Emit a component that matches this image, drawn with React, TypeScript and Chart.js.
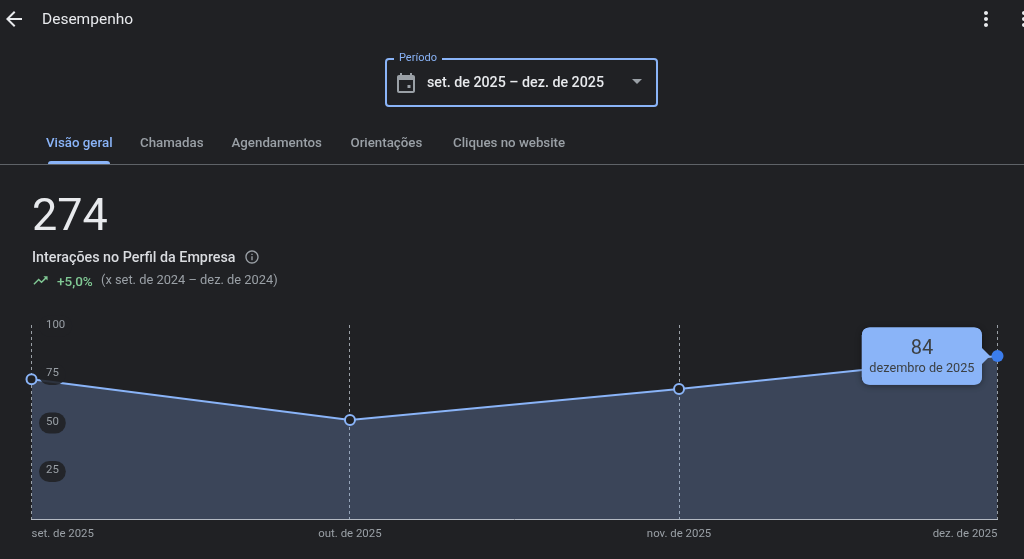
import { useEffect, useRef } from 'react';
import { Chart, registerables } from 'chart.js';

Chart.register(...registerables);

// days since 1 set. 2025, the axis is proportional to time
const dayOffsets = [0, 30, 61, 91];
const interactions = [72, 51, 67, 84];
const xTickLabels = ['set. de 2025', 'out. de 2025', 'nov. de 2025', 'dez. de 2025'];
const monthNames = ['setembro de 2025', 'outubro de 2025', 'novembro de 2025', 'dezembro de 2025'];
const yTickValues = [25, 50, 75, 100];
const tabs = ['Visão geral', 'Chamadas', 'Agendamentos', 'Orientações', 'Cliques no website'];
const tabLefts = [46, 140, 231.5, 350.5, 453];

const BG = '#202124';
const BLUE = '#8ab4f8';
const GREY = '#9aa0a6';
const FONT = 'Roboto, sans-serif';

const tickPills = {
  id: 'tickPills',
  afterDatasetsDraw(chart: Chart) {
    const { ctx } = chart;
    const y = chart.scales.y;
    ctx.save();
    ctx.fillStyle = 'rgba(32,33,36,0.88)';
    ctx.font = `11.4px ${FONT}`;
    yTickValues.forEach((v) => {
      const w = ctx.measureText(String(v)).width + 14;
      ctx.beginPath();
      ctx.roundRect(39, y.getPixelForValue(v) - 9.5, w, 21, 10.5);
      ctx.fill();
    });
    ctx.restore();
  },
  // shadow only under the box, so the tooltip text stays sharp
  beforeTooltipDraw(chart: Chart) {
    const { ctx } = chart;
    const tip = chart.tooltip;
    if (!tip) return;
    ctx.save();
    ctx.shadowColor = 'rgba(0,0,0,0.4)';
    ctx.shadowBlur = 6;
    ctx.shadowOffsetY = 1;
    ctx.fillStyle = BLUE;
    ctx.beginPath();
    ctx.roundRect(tip.x, tip.y, tip.width, tip.height, 8);
    ctx.fill();
    ctx.restore();
  },
};

function PerformanceChart() {
  const canvasRef = useRef<HTMLCanvasElement>(null);

  useEffect(() => {
    if (!canvasRef.current) return;
    const last = interactions.length - 1;

    const chart = new Chart(canvasRef.current, {
      type: 'line',
      data: {
        datasets: [
          {
            data: dayOffsets.map((x, i) => ({ x, y: interactions[i] })),
            borderColor: BLUE,
            borderWidth: 2,
            backgroundColor: 'rgba(138,180,248,0.25)',
            fill: 'origin',
            tension: 0,
            clip: false,
            pointRadius: interactions.map((_, i) => (i === last ? 6 : 5)),
            pointBorderWidth: interactions.map((_, i) => (i === last ? 0 : 2)),
            pointBorderColor: BLUE,
            pointBackgroundColor: interactions.map((_, i) => (i === last ? '#3b7ded' : BG)),
          },
        ],
      },
      options: {
        responsive: false,
        animation: false,
        events: [],
        layout: { padding: { left: 31.5, right: 26.5, top: 325, bottom: 0 } },
        scales: {
          x: {
            type: 'linear',
            min: 0,
            max: dayOffsets[last],
            afterBuildTicks: (scale) => {
              scale.ticks = dayOffsets.map((value) => ({ value }));
            },
            afterFit: (scale) => {
              scale.height = 40;
            },
            grid: { color: GREY, lineWidth: 1, drawTicks: false },
            border: { display: true, color: '#b4bac4', width: 1, dash: [3, 3] },
            ticks: {
              autoSkip: false,
              maxRotation: 0,
              align: 'inner',
              padding: 8,
              color: GREY,
              font: { family: FONT, size: 11.4 },
              callback: (_value, index) => xTickLabels[index],
            },
          },
          y: {
            min: 0,
            max: 100,
            afterBuildTicks: (scale) => {
              scale.ticks = yTickValues.map((value) => ({ value }));
            },
            // labels sit inside the plot, the axis takes no room
            afterFit: (scale) => {
              scale.width = 0;
            },
            grid: { display: false },
            border: { display: false },
            ticks: {
              mirror: true,
              z: 1,
              padding: 14.5,
              color: GREY,
              font: { family: FONT, size: 11.4 },
            },
          },
        },
        plugins: {
          legend: { display: false },
          tooltip: {
            animation: false,
            enabled: true,
            xAlign: 'right',
            yAlign: 'center',
            backgroundColor: BLUE,
            titleColor: '#3c4043',
            bodyColor: '#3c4043',
            titleFont: { family: FONT, size: 20, weight: 'normal' },
            bodyFont: { family: FONT, size: 12.7 },
            titleAlign: 'center',
            bodyAlign: 'center',
            titleMarginBottom: 0.5,
            padding: { left: 7.5, right: 7.5, top: 9.5, bottom: 8 },
            cornerRadius: 8,
            caretSize: 8,
            caretPadding: 7.5,
            displayColors: false,
            callbacks: {
              title: (items) => String(items[0].parsed.y),
              label: (item) => monthNames[item.dataIndex],
            },
          },
        },
      },
      plugins: [tickPills],
    });

    chart.tooltip?.setActiveElements([{ datasetIndex: 0, index: last }], { x: 0, y: 0 });
    chart.update('none');

    return () => chart.destroy();
  }, []);

  return (
    <canvas
      ref={canvasRef}
      width={1024}
      height={559}
      style={{ position: 'absolute', left: 0, top: 0, width: 1024, height: 559 }}
    />
  );
}

function Label({ x, y, size, color, weight = 400, children }: any) {
  return (
    <div
      style={{
        position: 'absolute',
        left: x,
        top: y,
        fontSize: size,
        color,
        fontWeight: weight,
        lineHeight: '20px',
        whiteSpace: 'nowrap',
        transform: 'translateY(-50%)',
      }}
    >
      {children}
    </div>
  );
}

export default function App() {
  useEffect(() => {
    document.body.style.margin = '0';
    document.body.style.background = BG;
  }, []);

  return (
    <div
      style={{
        position: 'absolute',
        left: 0,
        top: 0,
        width: 1024,
        height: 559,
        overflow: 'hidden',
        background: BG,
        fontFamily: FONT,
      }}
    >
      <PerformanceChart />

      {/* top bar */}
      <svg style={{ position: 'absolute', left: 2, top: 7 }} width="24" height="24" viewBox="0 0 24 24">
        <path d="M20 11H7.83l5.59-5.59L12 4l-8 8 8 8 1.41-1.41L7.83 13H20v-2z" fill="#e8eaed" />
      </svg>
      <Label x={42} y={19} size={15.5} color="#e8eaed">Desempenho</Label>
      <svg style={{ position: 'absolute', left: 973.5, top: 6.5 }} width="24" height="24" viewBox="0 0 24 24">
        <path
          d="M12 8c1.1 0 2-.9 2-2s-.9-2-2-2-2 .9-2 2 .9 2 2 2zm0 2c-1.1 0-2 .9-2 2s.9 2 2 2 2-.9 2-2-.9-2-2-2zm0 6c-1.1 0-2 .9-2 2s.9 2 2 2 2-.9 2-2-.9-2-2-2z"
          fill="#e8eaed"
        />
      </svg>
      <svg style={{ position: 'absolute', left: 1012, top: 6.5 }} width="24" height="24" viewBox="0 0 24 24">
        <path
          d="M12 8c1.1 0 2-.9 2-2s-.9-2-2-2-2 .9-2 2 .9 2 2 2zm0 2c-1.1 0-2 .9-2 2s.9 2 2 2 2-.9 2-2-.9-2-2-2zm0 6c-1.1 0-2 .9-2 2s.9 2 2 2 2-.9 2-2-.9-2-2-2z"
          fill="#e8eaed"
        />
      </svg>

      {/* period selector */}
      <div
        style={{
          position: 'absolute',
          left: 385,
          top: 58,
          width: 269,
          height: 45,
          border: `2px solid ${BLUE}`,
          borderRadius: 4,
        }}
      />
      <div style={{ position: 'absolute', left: 394, top: 52, width: 48, height: 12, background: BG }} />
      <Label x={399} y={57.5} size={11} color={BLUE}>Período</Label>
      <svg style={{ position: 'absolute', left: 394, top: 71 }} width="24" height="24" viewBox="0 0 24 24">
        <path
          d="M19 4h-1V2h-2v2H8V2H6v2H5c-1.1 0-2 .9-2 2v14c0 1.1.9 2 2 2h14c1.1 0 2-.9 2-2V6c0-1.100-.9-2-2-2zm0 16H5V9h14v11z"
          fill="#9aa0a6"
        />
        <path d="M13.500 14h3v3h-3z" fill="#9aa0a6" />
      </svg>
      <Label x={427} y={82} size={14.25} color="#e8eaed" weight={500}>set. de 2025 – dez. de 2025</Label>
      <svg style={{ position: 'absolute', left: 632, top: 79 }} width="10" height="5" viewBox="0 0 10 5">
        <path d="M0 0l5 5 5-5z" fill="#9aa0a6" />
      </svg>

      {/* tabs */}
      {tabs.map((t, i) => (
        <Label key={t} x={tabLefts[i]} y={143} size={13.3} weight={500} color={i === 0 ? BLUE : GREY}>
          {t}
        </Label>
      ))}
      <div
        style={{
          position: 'absolute',
          left: 48,
          top: 161,
          width: 62,
          height: 3,
          background: BLUE,
          borderRadius: '3px 3px 0 0',
        }}
      />
      <div style={{ position: 'absolute', left: 0, top: 164, width: 1024, height: 1, background: '#5f6368' }} />

      {/* summary */}
      <Label x={32} y={215} size={45} color="#e8eaed">274</Label>
      <Label x={32} y={257} size={14.3} weight={500} color="#dadce0">Interações no Perfil da Empresa</Label>
      <svg style={{ position: 'absolute', left: 244, top: 249 }} width="16" height="16" viewBox="0 0 24 24">
        <path
          d="M11 7h2v2h-2zm0 4h2v6h-2zm1-9C6.480 2 2 6.480 2 12s4.480 10 10 10 10-4.480 10-10S17.520 2 12 2zm0 18c-4.410 0-8-3.590-8-8s3.590-8 8-8 8 3.590 8 8-3.590 8-8 8z"
          fill="#9aa0a6"
        />
      </svg>
      <svg style={{ position: 'absolute', left: 32, top: 272 }} width="17" height="17" viewBox="0 0 24 24">
        <path d="M16 6l2.290 2.290-4.880 4.880-4-4L2 16.590 3.410 18l6-6 4 4 6.300-6.290L22 12V6z" fill="#81c995" />
      </svg>
      <Label x={57} y={281} size={13.5} weight={500} color="#81c995">+5,0%</Label>
      <Label x={101} y={280} size={12.85} color={GREY}>(x set. de 2024 – dez. de 2024)</Label>
    </div>
  );
}
